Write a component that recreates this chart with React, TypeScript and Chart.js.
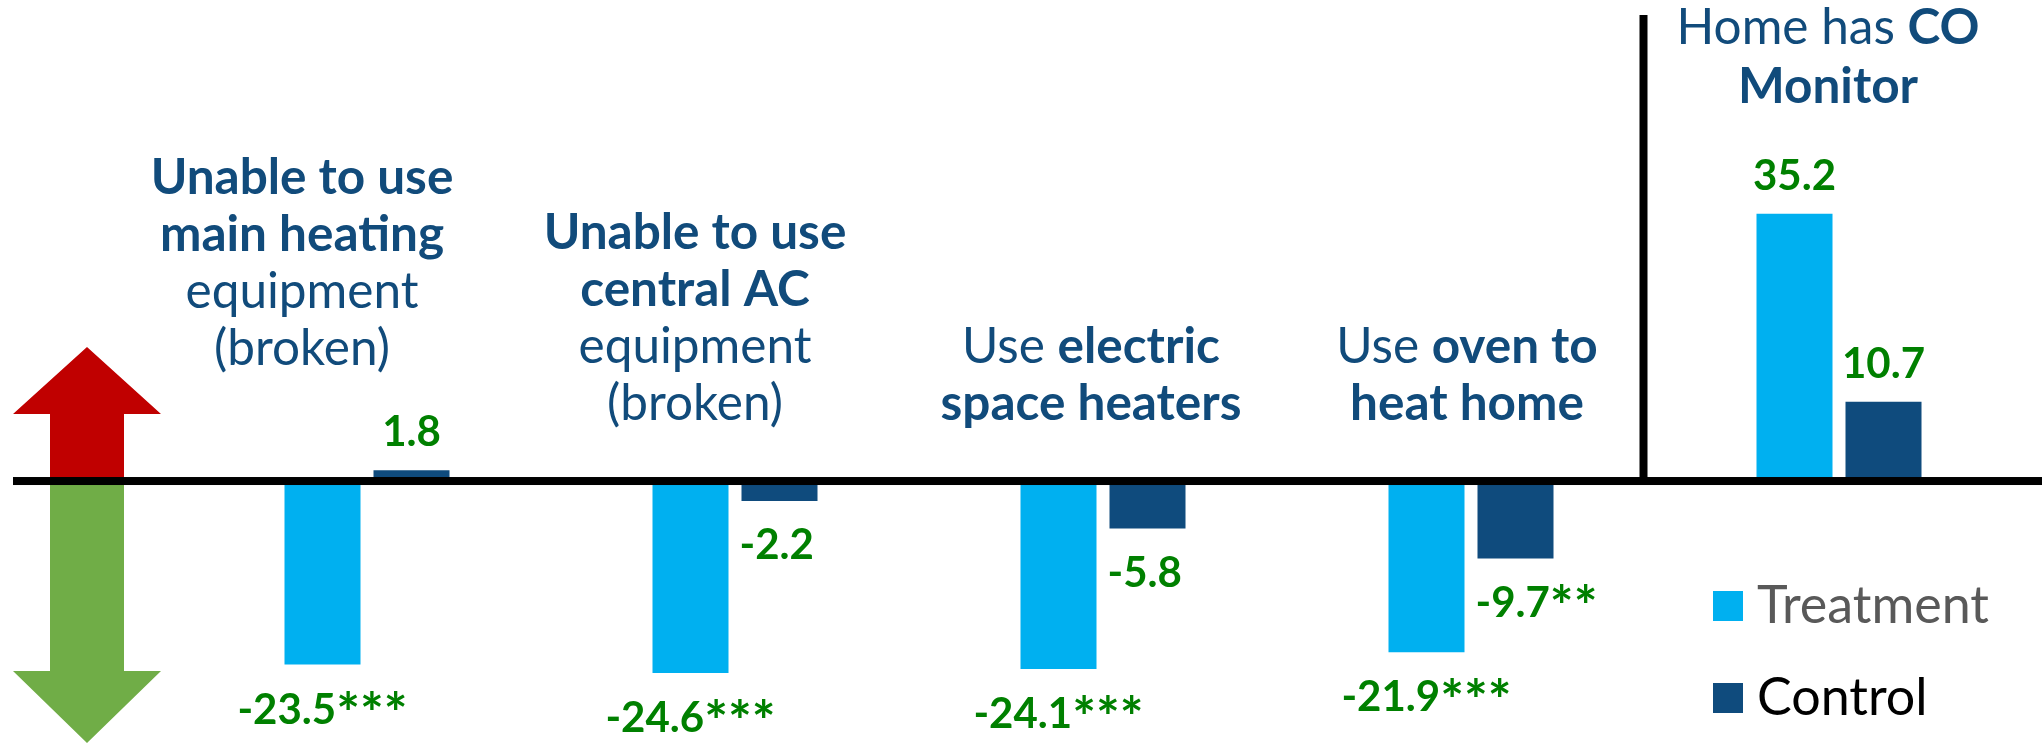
import React, { useEffect, useRef } from "react";
import { Chart, registerables } from "chart.js";

Chart.register(...registerables);

// ---------- data ----------
const categories = [
  "Unable to use main heating equipment (broken)",
  "Unable to use central AC equipment (broken)",
  "Use electric space heaters",
  "Use oven to heat home",
  "Home has CO Monitor",
];
const treatmentValues = [-23.5, -24.6, -24.1, -21.9, 35.2];
const controlValues = [1.8, -2.2, -5.8, -9.7, 10.7];
const treatmentSig = ["***", "***", "***", "***", ""];
const controlSig = ["", "", "", "**", ""];
const seriesNames = ["Treatment", "Control"];

// rich category titles: lines of [text, bold] segments
type Seg = [string, boolean];
const categoryTitles: Seg[][][] = [
  [[["Unable to use", true]], [["main heating", true]], [["equipment", false]], [["(broken)", false]]],
  [[["Unable to use", true]], [["central AC", true]], [["equipment", false]], [["(broken)", false]]],
  [[["Use ", false], ["electric", true]], [["space heaters", true]]],
  [[["Use ", false], ["oven to", true]], [["heat home", true]]],
  [[["Home has ", false], ["CO", true]], [["Monitor", true]]],
];

// ---------- layout / style ----------
const W = 2042;
const H = 744;
const Y_MIN = -33.85;
const Y_MAX = 63.02;
const FONT = "Lato";
const C_TREAT = "#00B0F0";
const C_CTRL = "#0F4B7D";
const C_TITLE = "#114B7B";
const C_LABEL = "#008000";
const TITLE_DX = [-65, -40, -12, -4, -11];
const TITLE_LAST_BASE = [365, 420, 420, 420, 103];
const TITLE_LH = [57, 57, 57, 57, 59];
const TITLE_SIZE = 49.5;
const LABEL_SIZE = 42;
const STAR_SIZE = 56;
const STAR_DROP = 9;
const LEGEND_SIZE = 52;

function drawRich(ctx: CanvasRenderingContext2D, segs: Seg[], cx: number, base: number, size: number, color: string) {
  const fonts = segs.map(([, b]) => `${b ? "bold " : ""}${size}px ${FONT}`);
  const widths = segs.map(([t], i) => {
    ctx.font = fonts[i];
    return ctx.measureText(t).width;
  });
  const total = widths.reduce((a, b) => a + b, 0);
  let x = cx - total / 2;
  ctx.fillStyle = color;
  ctx.textAlign = "left";
  ctx.textBaseline = "alphabetic";
  segs.forEach(([t], i) => {
    ctx.font = fonts[i];
    ctx.fillText(t, x, base);
    x += widths[i];
  });
}

// draws a value label; anchor: "center" or "left"
function drawLabel(ctx: CanvasRenderingContext2D, num: string, sig: string, x: number, base: number, anchor: string) {
  const fNum = `bold ${LABEL_SIZE}px ${FONT}`;
  const fStar = `bold ${STAR_SIZE}px ${FONT}`;
  ctx.font = fNum;
  const wNum = ctx.measureText(num).width;
  ctx.font = fStar;
  const wStar = sig ? ctx.measureText(sig).width : 0;
  const left = anchor === "center" ? x - (wNum + wStar) / 2 : x;
  ctx.textAlign = "left";
  ctx.textBaseline = "alphabetic";
  ctx.fillStyle = C_LABEL;
  ctx.font = fNum;
  ctx.fillText(num, left, base);
  if (sig) {
    ctx.font = fStar;
    ctx.fillText(sig, left + wNum, base + STAR_DROP);
  }
}

const decorPlugin = {
  id: "decor",
  beforeDatasetsDraw(chart: any) {
    const ctx: CanvasRenderingContext2D = chart.ctx;
    const y = chart.scales.y;
    const x = chart.scales.x;
    const z = y.getPixelForValue(0);
    ctx.save();
    // red up arrow
    ctx.fillStyle = "#C00000";
    ctx.beginPath();
    ctx.moveTo(87, z - 137);
    ctx.lineTo(161, z - 70);
    ctx.lineTo(124, z - 70);
    ctx.lineTo(124, z - 4);
    ctx.lineTo(50, z - 4);
    ctx.lineTo(50, z - 70);
    ctx.lineTo(13, z - 70);
    ctx.closePath();
    ctx.fill();
    // green down arrow
    ctx.fillStyle = "#70AD47";
    ctx.beginPath();
    ctx.moveTo(50, z);
    ctx.lineTo(124, z);
    ctx.lineTo(124, z + 187);
    ctx.lineTo(161, z + 187);
    ctx.lineTo(87, z + 259);
    ctx.lineTo(13, z + 187);
    ctx.lineTo(50, z + 187);
    ctx.closePath();
    ctx.fill();
    // titles
    categoryTitles.forEach((lines, i) => {
      const cx = x.getPixelForValue(i) + TITLE_DX[i];
      const n = lines.length;
      lines.forEach((segs, j) => {
        const base = TITLE_LAST_BASE[i] - (n - 1 - j) * TITLE_LH[i];
        drawRich(ctx, segs, cx, base, TITLE_SIZE, C_TITLE);
      });
    });
    ctx.restore();
  },
  afterDatasetsDraw(chart: any) {
    const ctx: CanvasRenderingContext2D = chart.ctx;
    const y = chart.scales.y;
    const x = chart.scales.x;
    const z = y.getPixelForValue(0);
    ctx.save();
    // zero line
    ctx.fillStyle = "#000000";
    ctx.fillRect(13, z - 7, W - 13, 8);
    // vertical separator
    const sepX = (x.getPixelForValue(3) + x.getPixelForValue(4)) / 2 - 11.5;
    ctx.fillRect(sepX - 4, 15, 8, z - 15);
    // data labels
    [0, 1].forEach((d) => {
      const meta = chart.getDatasetMeta(d);
      const vals = d === 0 ? treatmentValues : controlValues;
      const sig = d === 0 ? treatmentSig : controlSig;
      meta.data.forEach((bar: any, i: number) => {
        const v = vals[i];
        const num = v.toFixed(1);
        if (v >= 0) {
          drawLabel(ctx, num, sig[i], bar.x, bar.y - 24, "center");
        } else if (d === 0) {
          drawLabel(ctx, num, sig[i], bar.x, bar.y + 59, "center");
        } else {
          drawLabel(ctx, num, sig[i], bar.x - bar.width / 2 - 2, bar.y + 58, "left");
        }
      });
    });
    // legend
    const legendColors = [C_TREAT, C_CTRL];
    const legendText = ["#595959", "#000000"];
    const legendTop = [591, 683];
    ctx.font = `${LEGEND_SIZE}px ${FONT}`;
    ctx.textAlign = "left";
    ctx.textBaseline = "alphabetic";
    seriesNames.forEach((name, i) => {
      ctx.fillStyle = legendColors[i];
      ctx.fillRect(1713, legendTop[i], 30, 30);
      ctx.fillStyle = legendText[i];
      ctx.fillText(name, 1757, legendTop[i] + 32);
    });
    ctx.restore();
  },
};

export default function App() {
  const ref = useRef<HTMLCanvasElement>(null);
  useEffect(() => {
    if (!ref.current) return;
    const chart = new Chart(ref.current, {
      type: "bar",
      data: {
        labels: categories,
        datasets: [
          {
            label: seriesNames[0],
            data: treatmentValues,
            backgroundColor: C_TREAT,
            categoryPercentage: 0.4837,
            barPercentage: 0.854,
          },
          {
            label: seriesNames[1],
            data: controlValues,
            backgroundColor: C_CTRL,
            categoryPercentage: 0.4837,
            barPercentage: 0.854,
          },
        ],
      },
      options: {
        responsive: false,
        animation: false,
        devicePixelRatio: 1,
        layout: { padding: { left: 183, right: 19, top: 0, bottom: 0 } },
        plugins: { legend: { display: false }, tooltip: { enabled: false } },
        scales: {
          x: { display: false },
          y: { display: false, min: Y_MIN, max: Y_MAX },
        },
      },
      plugins: [decorPlugin],
    });
    let alive = true;
    if ((document as any).fonts) {
      Promise.all([
        (document as any).fonts.load(`bold ${TITLE_SIZE}px ${FONT}`),
        (document as any).fonts.load(`${TITLE_SIZE}px ${FONT}`),
      ]).then(() => {
        if (alive) chart.update();
      });
    }
    return () => {
      alive = false;
      chart.destroy();
    };
  }, []);
  return (
    <div style={{ position: "fixed", left: 0, top: 0, width: W, height: H, background: "#fff" }}>
      <canvas ref={ref} width={W} height={H} style={{ width: W, height: H, display: "block" }} />
    </div>
  );
}
